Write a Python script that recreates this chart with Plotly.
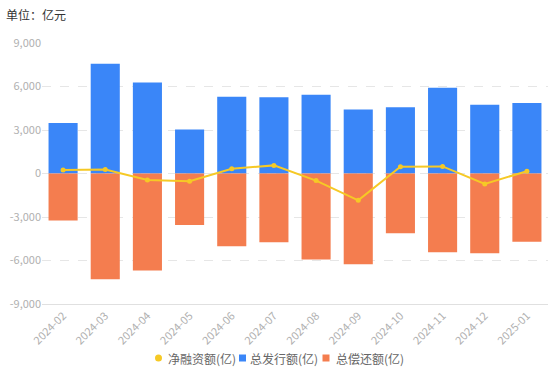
import plotly.graph_objects as go

months = ["2024-02", "2024-03", "2024-04", "2024-05", "2024-06", "2024-07",
          "2024-08", "2024-09", "2024-10", "2024-11", "2024-12", "2025-01"]
issuance = [3480, 7570, 6270, 3040, 5290, 5260, 5430, 4410, 4570, 5910, 4740, 4870]
repayment = [-3240, -7300, -6690, -3560, -5010, -4740, -5930, -6250, -4120, -5430, -5500, -4710]
net_financing = [240, 280, -440, -530, 320, 560, -490, -1850, 470, 490, -720, 160]

yticks = [-9000, -6000, -3000, 0, 3000, 6000, 9000]
ytick_text = ["-9,000", "-6,000", "-3,000", "0", "3,000", "6,000", "9,000"]

legend_names = ["净融资额(亿)", "总发行额(亿)", "总偿还额(亿)"]

BLUE = "#3A86F8"
ORANGE = "#F47D4F"
YELLOW = "#F6C925"
FONT = "Noto Sans CJK SC"

W, H = 554, 373
L, R, T, B = 42, 6, 43, 69
PW, PH = W - L - R, H - T - B


def px_x(x):
    return (x - L) / PW


def px_y(y):
    return (H - B - y) / PH


fig = go.Figure()
fig.add_trace(go.Bar(x=months, y=issuance, name=legend_names[1], marker_color=BLUE,
                     marker_line_width=0, showlegend=False))
fig.add_trace(go.Bar(x=months, y=repayment, name=legend_names[2], marker_color=ORANGE,
                     marker_line_width=0, showlegend=False))
fig.add_trace(go.Scatter(x=months, y=net_financing, name=legend_names[0], mode="lines+markers",
                         line=dict(color=YELLOW, width=2), marker=dict(size=5, color=YELLOW),
                         showlegend=False))

# manual legend (paper coords)
leg_y = px_y(358)
shapes = [
    dict(type="circle", xref="paper", yref="paper", xsizemode="pixel", ysizemode="pixel",
         xanchor=px_x(158.5), yanchor=leg_y, x0=-3.5, x1=3.5, y0=-3.5, y1=3.5,
         fillcolor=YELLOW, line_width=0),
    dict(type="rect", xref="paper", yref="paper", xsizemode="pixel", ysizemode="pixel",
         xanchor=px_x(242.5), yanchor=leg_y, x0=-3.5, x1=3.5, y0=-3.5, y1=3.5,
         fillcolor=BLUE, line_width=0),
    dict(type="rect", xref="paper", yref="paper", xsizemode="pixel", ysizemode="pixel",
         xanchor=px_x(326), yanchor=leg_y, x0=-3.5, x1=3.5, y0=-3.5, y1=3.5,
         fillcolor=ORANGE, line_width=0),
]
annotations = [dict(text="单位：亿元", xref="paper", yref="paper", x=px_x(4), y=px_y(15),
                    xanchor="left", yanchor="middle", showarrow=False,
                    font=dict(family=FONT, size=12, color="#333333"))]
for name, xs in zip(legend_names, [166, 248, 334]):
    annotations.append(dict(text=name, xref="paper", yref="paper", x=px_x(xs), y=leg_y,
                            xanchor="left", yanchor="middle", showarrow=False,
                            font=dict(family=FONT, size=12, color="#666666")))

fig.update_layout(
    width=W, height=H,
    margin=dict(l=L, r=R, t=T, b=B),
    paper_bgcolor="white", plot_bgcolor="white",
    barmode="relative", bargap=0.31,
    font=dict(family=FONT, size=11, color="#999999"),
    showlegend=False,
    shapes=shapes,
    annotations=annotations,
)
fig.update_xaxes(type="category", range=[-0.5, len(months) - 0.5], tickangle=-45,
                 showgrid=False, showline=True,
                 linecolor="#e0e0e0", linewidth=1, ticks="", automargin=False,
                 tickfont=dict(size=11, color="#b0b0b0"))
fig.update_yaxes(range=[-9000, 9000], tickvals=yticks, ticktext=ytick_text,
                 showgrid=True, gridcolor="#e6e6e6", griddash="dash", gridwidth=1,
                 zeroline=False, showline=False, ticks="", automargin=False,
                 tickfont=dict(size=11, color="#b0b0b0"))

fig.write_html("out.html", config={"displayModeBar": False},
               post_script="document.body.style.margin='0';document.body.style.overflow='hidden';")
